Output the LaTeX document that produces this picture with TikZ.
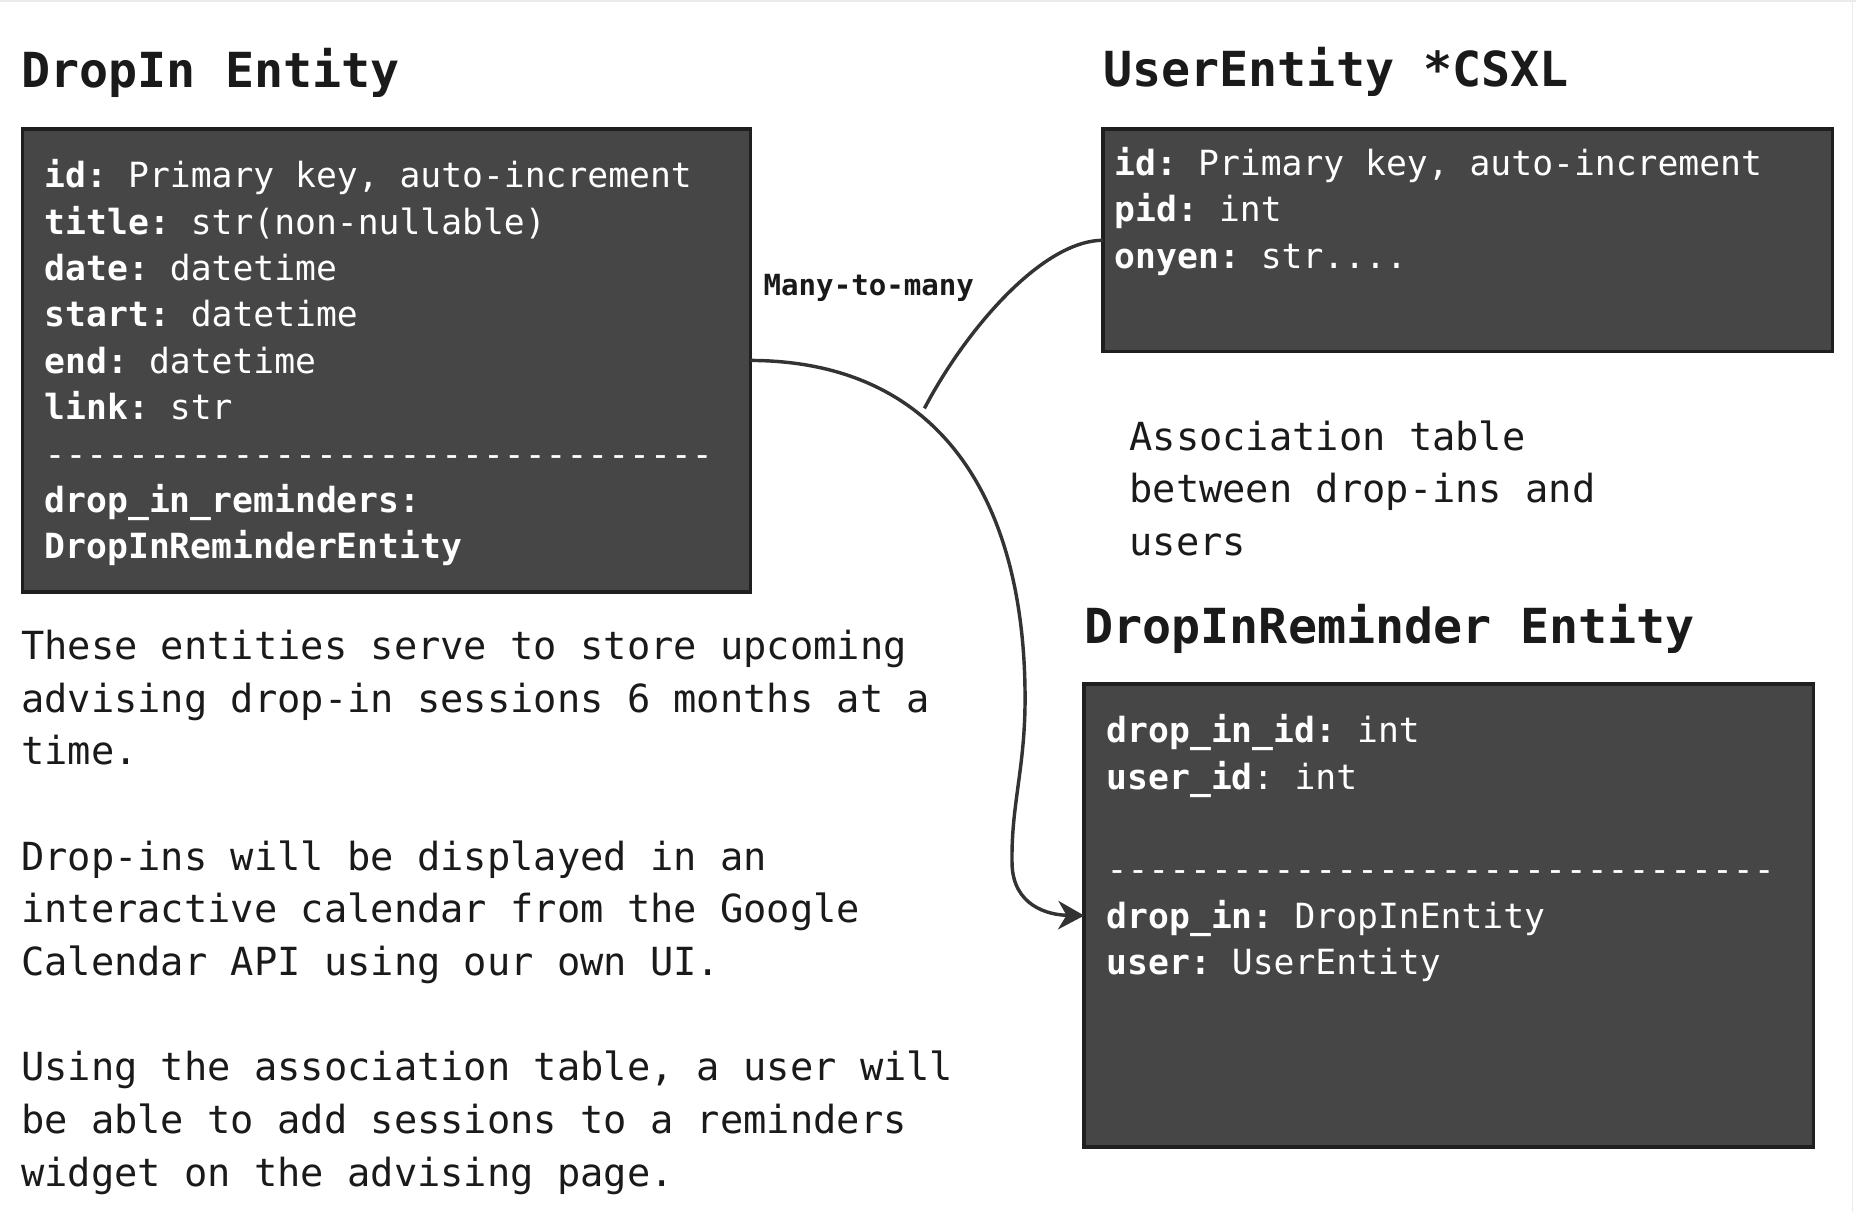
\documentclass[tikz,border=0pt]{standalone}
\usepackage{fontspec}
\setmonofont{DejaVu Sans Mono}
\usetikzlibrary{positioning,arrows.meta}

\definecolor{boxfill}{HTML}{464646}
\definecolor{boxline}{HTML}{1F1F1F}
\definecolor{inkdark}{HTML}{1A1A1A}
\definecolor{linkline}{HTML}{333333}
\definecolor{edgegray}{HTML}{EBEBEB}

\newcommand{\fld}[2]{\textbf{#1} #2}

\tikzset{
  entity/.style={draw=boxline, fill=boxfill, line width=3pt, inner sep=0pt, outer sep=0pt, anchor=north west},
  fields/.style={text=white, font=\ttfamily\fontsize{29.3}{39.2}\selectfont, align=left, inner sep=0pt},
  heading/.style={text=inkdark, font=\ttfamily\bfseries\fontsize{40.8}{48}\selectfont, inner sep=0pt},
  note/.style={text=inkdark, font=\ttfamily\fontsize{32.7}{44.5}\selectfont, align=left, inner sep=0pt},
  linklabel/.style={text=inkdark, font=\ttfamily\bfseries\fontsize{24.6}{30}\selectfont, inner sep=0pt},
  link/.style={draw=linkline, line width=2.9pt},
}

\begin{document}
\begin{tikzpicture}[x=1pt, y=1pt]
    \useasboundingbox (0,0) rectangle (1568,-1024);
    \draw[edgegray, line width=1.5pt] (0,-0.75) -- (1568,-0.75);
    \draw[edgegray, line width=1.5pt] (1565,0) -- (1565,-1024);

    \node[entity, minimum width=615pt, minimum height=391pt] (dropin) at (19,-109) {};
    \node[entity, minimum width=616pt, minimum height=188pt] (user) at (932,-109) {};
    \node[entity, minimum width=616pt, minimum height=391pt] (reminder) at (916,-578) {};

    \node[heading, above right=26pt and -1pt of dropin.north west] (dropintitle) {DropIn Entity};
    \node[heading, above right=27pt and 0pt of user.north west] (usertitle) {UserEntity *CSXL};
    \node[heading, above right=26pt and 0pt of reminder.north west] (remindertitle) {DropInReminder Entity};

    \node[fields, below right=25.5pt and 18.5pt of dropin.north west] (dropinfields) {%
        \fld{id:}{Primary key, auto-increment}\\
        \fld{title:}{str(non-nullable)}\\
        \fld{date:}{datetime}\\
        \fld{start:}{datetime}\\
        \fld{end:}{datetime}\\
        \fld{link:}{str}\\
        --------------------------------\\
        \textbf{drop\_in\_reminders:}\\
        \textbf{DropInReminderEntity}};

    \node[fields, below right=15pt and 9.5pt of user.north west] (userfields) {%
        \fld{id:}{Primary key, auto-increment}\\
        \fld{pid:}{int}\\
        \fld{onyen:}{str....}};

    \node[fields, below right=25.5pt and 18.7pt of reminder.north west] (reminderfields) {%
        \fld{drop\_in\_id:}{int}\\
        \textbf{user\_id}: int\\
        \mbox{}\\
        --------------------------------\\
        \fld{drop\_in:}{DropInEntity}\\
        \fld{user:}{UserEntity}};

    \node[note, below right=32pt and -1.3pt of dropin.south west] (purpose) {%
        These entities serve to store upcoming\\
        advising drop-in sessions 6 months at a\\
        time.\\
        \mbox{}\\
        Drop-ins will be displayed in an\\
        interactive calendar from the Google\\
        Calendar API using our own UI.\\
        \mbox{}\\
        Using the association table, a user will\\
        be able to add sessions to a reminders\\
        widget on the advising page.};

    \node[note, below right=58pt and 22pt of user.south west] (assoc) {%
        Association table\\
        between drop-ins and\\
        users};

    \node[linklabel, anchor=base] (manymany) at (734,-249.7) {Many-to-many};

    \coordinate (join) at (781,-345);
    \coordinate (swing) at (866,-590);
    \coordinate (dip) at (855,-730);

    \draw[link, -{Stealth[length=22pt, width=24pt, inset=7pt]}] (dropin.east)
        .. controls (800,-305) and (866,-430) .. (swing)
        .. controls (866,-650) and (854,-680) .. (dip)
        .. controls (856,-765) and (885,-773) .. (reminder.west);
    \draw[link] (user.west) .. controls (880,-203) and (815,-280) .. (join);
\end{tikzpicture}
\end{document}
